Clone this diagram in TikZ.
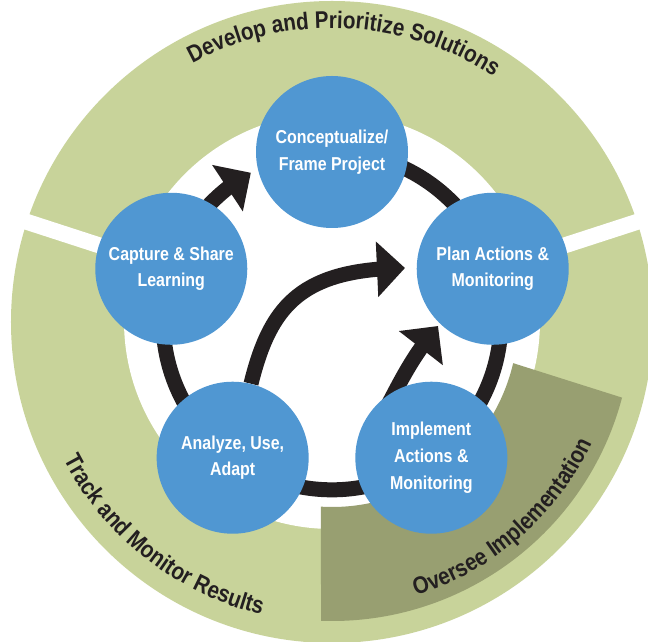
\documentclass[tikz,border=0pt]{standalone}
\usepackage{fontspec}
\newfontfamily\stagefamily{Liberation Sans}[FakeStretch=0.855]
\newfontfamily\arcfamily{Liberation Sans}[FakeStretch=0.86]
\usepackage{tikz}
\usetikzlibrary{calc}
\usetikzlibrary{arrows.meta,bending}
\usetikzlibrary{decorations.text}
\definecolor{ringgreen}{RGB}{200,211,154}
\definecolor{overseegreen}{RGB}{152,159,113}
\definecolor{stageblue}{RGB}{80,151,210}
\definecolor{loopblack}{RGB}{35,31,32}
\pgfdeclarelayer{base}
\pgfdeclarelayer{links}
\pgfsetlayers{base,links,main}
\tikzset{every picture/.style={line width=0.75pt}}
\tikzset{
  stage/.style={circle, fill=stageblue, text=white, minimum size=114pt, inner sep=0pt, align=center,
    font=\stagefamily\bfseries\fontsize{14}{20}\selectfont},
  loopline/.style={draw=loopblack, line width=11.25pt},
  flow/.style={loopline, -{Triangle[length=21pt, width=40.5pt]}},
  gapline/.style={draw=white, line width=12pt},
  arclabel/.style={decorate, decoration={text along path, text align=center, text color=loopblack}},
}
\newcommand{\arcfont}{\arcfamily\bfseries\fontsize{18}{20}\selectfont}

\begin{document}
\begin{tikzpicture}[x=0.75pt,y=0.75pt]
\useasboundingbox (-332,-320) rectangle (316,321);

\begin{pgfonlayer}{base}
\clip (-332,-320) rectangle (316,321);
%Shape: Outer Ring
\fill[ringgreen] (0,-1) circle (321);
\fill[white] (0,0) circle (208);
%Straight Lines: ring gaps
\draw[gapline] (0,0) -- (18:340);
\draw[gapline] (0,0) -- (162:340);
%Shape: Oversee band
\fill[overseegreen] (-93.4:186) arc (-93.4:-13.1:186) -- (-14.8:300) arc (-14.8:-92.1:300) -- cycle;
\end{pgfonlayer}

% Stage Nodes
\node[stage] (concept) at (90:169) {Conceptualize/\\Frame Project};
\node[stage] (plan) at (18:169) {Plan Actions \&\\Monitoring};
\node[stage] (implement) at (-54:169) {Implement\\Actions \&\\Monitoring};
\node[stage] (analyze) at (234:169) {Analyze, Use,\\Adapt};
\node[stage] (capture) at (162:169) {Capture \& Share\\Learning};

\coordinate (tipA) at (118.7:169);
\coordinate (tipB) at (73,53);
\coordinate (tipC) at (106,-5);
\coordinate (tailC) at ($(implement)+(-49,42)$);

\begin{pgfonlayer}{links}
%Curve Lines: cycle
\draw[loopline] (concept.center) to[bend left=36, looseness=0.94] (plan.center);
\draw[loopline] (plan.center) to[bend left=36, looseness=0.94] (implement.center);
\draw[loopline] (implement.center) to[bend left=36, looseness=0.94] (analyze.center);
\draw[loopline] (analyze.center) to[bend left=36, looseness=0.94] (capture.center);
\draw[flow] (capture.center) to[bend left=21.65, looseness=0.88] (tipA);
%Curve Lines: inner arrows
\draw[flow] (analyze) .. controls (-62,14) and (-32,52) .. (tipB);
\draw[flow] (tailC) to[out=62, in=230] (tipC);
\end{pgfonlayer}

% Text Node: ring labels
\path[arclabel, decoration={text={|\arcfont|Develop and Prioritize Solutions}}] (127.5:293) arc (127.5:47.5:293);
\path[arclabel, decoration={text={|\arcfont|Track and Monitor Results}}] (196.9:302) arc (196.9:266.9:302);
\path[arclabel, decoration={text={|\arcfont|Oversee Implementation}}] (-84.1:287) arc (-84.1:-14.1:287);

\end{tikzpicture}
\end{document}
